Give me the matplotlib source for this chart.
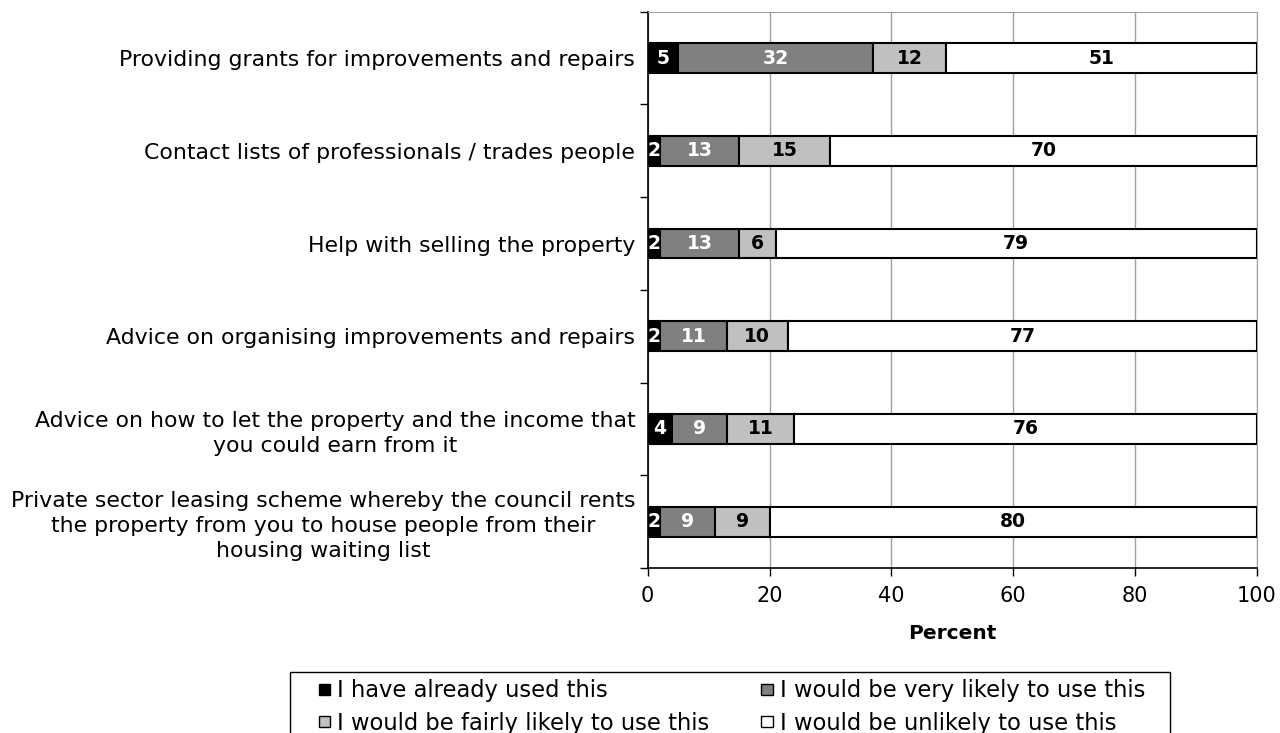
import numpy as np
import matplotlib
matplotlib.use('Agg')
import matplotlib.pyplot as plt
import matplotlib.patches as mpatches

# help types, top row first
services = [
    'Providing grants for improvements and repairs',
    'Contact lists of professionals / trades people',
    'Help with selling the property',
    'Advice on organising improvements and repairs',
    'Advice on how to let the property and the income that\nyou could earn from it',
    'Private sector leasing scheme whereby the council rents\nthe property from you to house people from their\nhousing waiting list',
]

already_used = [5, 2, 2, 2, 4, 2]
very_likely = [32, 13, 13, 11, 9, 9]
fairly_likely = [12, 15, 6, 10, 11, 9]
unlikely = [51, 70, 79, 77, 76, 80]

series_names = ['I have already used this', 'I would be very likely to use this',
                'I would be fairly likely to use this', 'I would be unlikely to use this']
colours = ['#000000', '#808080', '#C0C0C0', '#FFFFFF']
text_colours = ['white', 'white', 'black', 'black']

plt.rcParams['font.family'] = 'DejaVu Sans'

fig = plt.figure(figsize=(12.8, 7.33), dpi=100)
ax = fig.add_axes([0.506, 0.225, 0.476, 0.759])

y = np.arange(len(services))
left = np.zeros(len(services))
for vals, col, tcol in zip([already_used, very_likely, fairly_likely, unlikely], colours, text_colours):
    vals = np.array(vals, dtype=float)
    ax.barh(y, vals, left=left, height=0.32, color=col, edgecolor='black', linewidth=1.5, zorder=3)
    for yi, (l, v) in enumerate(zip(left, vals)):
        ax.text(l + v / 2, yi, str(int(v)), ha='center', va='center', color=tcol,
                fontsize=13.5, fontweight='bold', zorder=4)
    left += vals

ax.set_xlim(0, 100)
ax.set_ylim(len(services) - 0.5, -0.5)
ax.set_xticks([0, 20, 40, 60, 80, 100])
ax.tick_params(axis='x', labelsize=15, length=6, width=1, pad=7)
ax.set_xlabel('Percent', fontsize=14.5, fontweight='bold', labelpad=13)

ax.set_yticks(y)
ax.set_yticklabels(services, fontsize=15.8, multialignment='center', linespacing=1.3)
ax.tick_params(axis='y', length=0, pad=9)
ax.set_yticks(np.arange(len(services) + 1) - 0.5, minor=True)
ax.tick_params(axis='y', which='minor', length=6, width=1)

ax.grid(axis='x', color='#A0A0A0', linewidth=1, zorder=0)
ax.spines['top'].set_color('#A0A0A0')
ax.spines['right'].set_color('#A0A0A0')
ax.spines['left'].set_linewidth(1.2)
ax.spines['bottom'].set_linewidth(1.2)

# legend box runs off the bottom edge
box = mpatches.Rectangle((0.2266, -0.1), 0.6875, 0.1832, transform=fig.transFigure,
                         facecolor='white', edgecolor='black', linewidth=1)
fig.patches.append(box)

handles = [mpatches.Patch(facecolor=c, edgecolor='black', linewidth=1, label=n)
           for c, n in zip(colours, series_names)]
# two columns, filled row by row
order = [0, 2, 1, 3]
leg = fig.legend([handles[i] for i in order], [series_names[i] for i in order],
                 loc='upper left', bbox_to_anchor=(0.2492, 0.073),
                 ncol=2, fontsize=16.3, frameon=False, handlelength=0.5,
                 handleheight=0.4, handletextpad=0.3, borderaxespad=0, borderpad=0,
                 labelspacing=0.4, columnspacing=2.3)

fig.savefig('out.png', dpi=100)
